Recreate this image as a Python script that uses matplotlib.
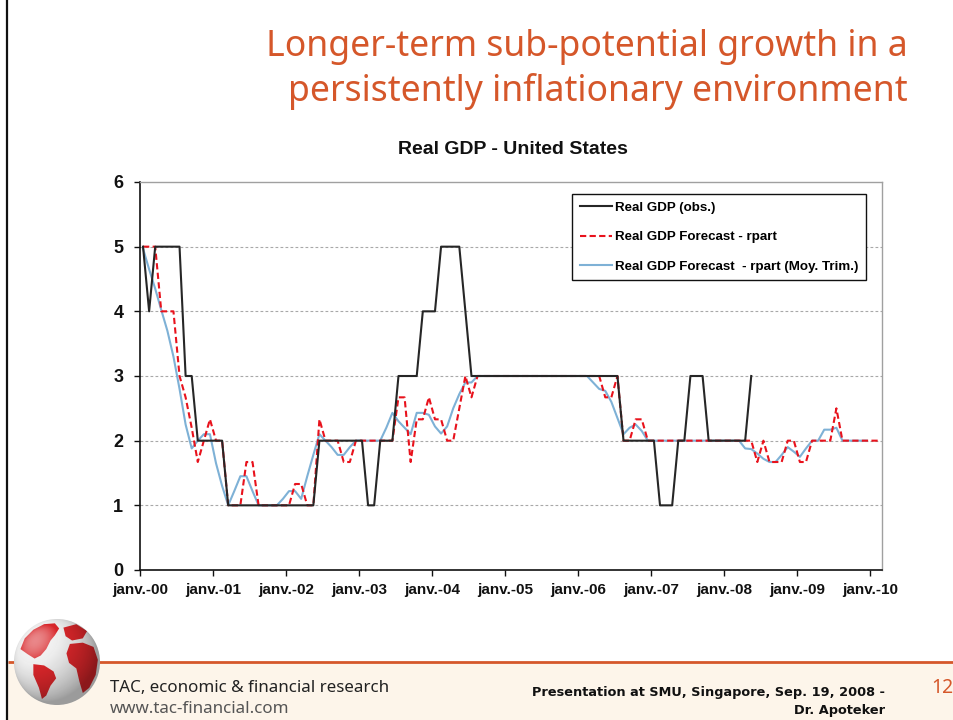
import numpy as np
import matplotlib
matplotlib.use("Agg")
import matplotlib.pyplot as plt
from matplotlib.patches import Circle, Polygon, Rectangle
from matplotlib.lines import Line2D

nan = np.nan

# monthly data, janv. 2000 -> fev. 2010 (122 months)
gdp_obs = [
    5, 4, 5, 5, 5, 5, 5, 3, 3, 2, 2, 2,            # 2000
    2, 2, 1, 1, 1, 1, 1, 1, 1, 1, 1, 1,            # 2001
    1, 1, 1, 1, 1, 2, 2, 2, 2, 2, 2, 2,            # 2002
    2, 1, 1, 2, 2, 2, 3, 3, 3, 3, 4, 4,            # 2003
    4, 5, 5, 5, 5, 4, 3, 3, 3, 3, 3, 3,            # 2004
    3, 3, 3, 3, 3, 3, 3, 3, 3, 3, 3, 3,            # 2005
    3, 3, 3, 3, 3, 3, 3, 2, 2, 2, 2, 2,            # 2006
    2, 1, 1, 1, 2, 2, 3, 3, 3, 2, 2, 2,            # 2007
    2, 2, 2, 2, 3, nan, nan, nan, nan, nan, nan, nan,  # 2008
    nan, nan, nan, nan, nan, nan, nan, nan, nan, nan, nan, nan,  # 2009
    nan, nan,                                      # 2010
]

gdp_rpart = [
    5, 5, 5, 4, 4, 4, 3, 2.67, 2.2, 1.67, 2, 2.33,
    2, 2, 1, 1, 1, 1.67, 1.67, 1, 1, 1, 1, 1,
    1, 1.33, 1.33, 1, 1, 2.33, 2, 2, 2, 1.67, 1.67, 2,
    2, 2, 2, 2, 2, 2, 2.67, 2.67, 1.67, 2.33, 2.33, 2.67,
    2.33, 2.33, 2, 2, 2.5, 3, 2.67, 3, 3, 3, 3, 3,
    3, 3, 3, 3, 3, 3, 3, 3, 3, 3, 3, 3,
    3, 3, 3, 3, 2.67, 2.67, 3, 2, 2, 2.33, 2.33, 2,
    2, 2, 2, 2, 2, 2, 2, 2, 2, 2, 2, 2,
    2, 2, 2, 2, 2, 1.67, 2, 1.67, 1.67, 1.67, 2, 2,
    1.67, 1.67, 2, 2, 2, 2, 2.5, 2, 2, 2, 2, 2,
    2, 2,
]

gdp_rpart_trim = [
    4.97, 4.65, 4.35, 4.02, 3.7, 3.3, 2.8, 2.25, 1.88, 2.0, 2.1, 2.1,
    1.65, 1.3, 1.0, 1.22, 1.45, 1.45, 1.22, 1.0, 1.0, 1.0, 1.0, 1.1,
    1.22, 1.22, 1.1, 1.45, 1.78, 2.1, 2.0, 1.9, 1.78, 1.78, 1.9, 2.0,
    2, 2, 2, 2, 2.2, 2.43, 2.3, 2.2, 2.1, 2.43, 2.43, 2.4,
    2.22, 2.11, 2.22, 2.5, 2.72, 2.9, 2.9, 3, 3, 3, 3, 3,
    3, 3, 3, 3, 3, 3, 3, 3, 3, 3, 3, 3,
    3, 3, 2.9, 2.8, 2.77, 2.6, 2.35, 2.1, 2.2, 2.25, 2.15, 2.0,
    2, 2, 2, 2, 2, 2, 2, 2, 2, 2, 2, 2,
    2, 2, 2, 1.88, 1.87, 1.8, 1.72, 1.67, 1.67, 1.78, 1.9, 1.83,
    1.75, 1.88, 2.0, 2.0, 2.17, 2.17, 2.2, 2, 2, 2, 2, 2,
    nan, nan,
]

year_labels = ['janv.-00', 'janv.-01', 'janv.-02', 'janv.-03', 'janv.-04', 'janv.-05',
               'janv.-06', 'janv.-07', 'janv.-08', 'janv.-09', 'janv.-10']
series_names = ['Real GDP (obs.)', 'Real GDP Forecast - rpart',
                'Real GDP Forecast  - rpart (Moy. Trim.)']

ORANGE = '#d5572a'
W, H = 954, 720

fig = plt.figure(figsize=(W / 100, H / 100), dpi=100)
fig.patch.set_facecolor('white')

# slide background drawn in pixel coordinates
bg = fig.add_axes([0, 0, 1, 1], zorder=0)
bg.set_xlim(0, W)
bg.set_ylim(H, 0)
bg.axis('off')

bg.add_patch(Rectangle((8, 662), W - 8, H - 662, fc='#fdf5ea', ec='none', zorder=1))
bg.plot([8, W], [661.5, 661.5], color=ORANGE, lw=2, zorder=2, solid_capstyle='butt')
bg.plot([7.5, 7.5], [0, H], color='#111111', lw=1.6, zorder=2)


def draw_globe(ax, cx, cy, r):
    circ = Circle((cx, cy), r, fc='#eeeeee', ec='none', zorder=3)
    ax.add_patch(circ)
    lands = [
        # north america
        [(-0.85, 0.3), (-0.75, 0.55), (-0.55, 0.75), (-0.3, 0.88), (-0.05, 0.9), (0.05, 0.78),
         (-0.05, 0.62), (-0.15, 0.5), (-0.25, 0.3), (-0.38, 0.15), (-0.52, 0.08), (-0.68, 0.18)],
        # south america
        [(-0.55, -0.05), (-0.3, -0.08), (-0.08, -0.22), (-0.02, -0.38), (-0.15, -0.55),
         (-0.25, -0.78), (-0.35, -0.86), (-0.42, -0.6), (-0.55, -0.3)],
        # europe
        [(0.15, 0.8), (0.45, 0.88), (0.7, 0.72), (0.6, 0.55), (0.35, 0.5), (0.2, 0.6)],
        # africa
        [(0.3, 0.42), (0.6, 0.45), (0.85, 0.35), (0.95, 0.05), (0.9, -0.3), (0.75, -0.6),
         (0.6, -0.72), (0.52, -0.45), (0.45, -0.15), (0.28, -0.02), (0.22, 0.2)],
    ]
    for land in lands:
        p = Polygon([(cx + r * u, cy - r * v) for u, v in land], closed=True,
                    fc='#d8262a', ec='none', zorder=4)
        ax.add_patch(p)
        p.set_clip_path(circ)
    # spherical shading
    n = 240
    u, v = np.meshgrid(np.linspace(-1, 1, n), np.linspace(1, -1, n))
    z = np.sqrt(np.clip(1 - u ** 2 - v ** 2, 0, None))
    light = np.array([-0.5, 0.5, 0.7])
    light = light / np.linalg.norm(light)
    lam = u * light[0] + v * light[1] + z * light[2]
    rgba = np.zeros((n, n, 4))
    hi = lam > 0.85
    rgba[hi, :3] = 1.0
    rgba[..., 3] = np.where(hi, np.clip((lam - 0.85) * 3, 0, 0.45),
                            np.clip((0.85 - lam) * 0.35, 0, 0.35))
    im = ax.imshow(rgba, extent=(cx - r, cx + r, cy + r, cy - r), origin='upper',
                   zorder=5, aspect='auto', interpolation='bilinear')
    im.set_clip_path(circ)


draw_globe(bg, 57, 662, 43)
bg.set_xlim(0, W)
bg.set_ylim(H, 0)

# slide title
title_font = ['Noto Sans', 'DejaVu Sans']
bg.text(908, 56, 'Longer-term sub-potential growth in a', ha='right', va='baseline',
        fontsize=25.6, color=ORANGE, family=title_font)
bg.text(908, 101, 'persistently inflationary environment', ha='right', va='baseline',
        fontsize=25.6, color=ORANGE, family=title_font)

# footer
bg.text(110, 692, 'TAC, economic & financial research', ha='left', va='baseline',
        fontsize=12.2, color='#222222', family=title_font)
bg.text(110, 713, 'www.tac-financial.com', ha='left', va='baseline',
        fontsize=12.2, color='#555555', family=title_font)
bg.text(885, 696, 'Presentation at SMU, Singapore, Sep. 19, 2008 -', ha='right', va='baseline',
        fontsize=9.3, fontweight='bold', color='#111111', family='DejaVu Sans')
bg.text(885, 714, 'Dr. Apoteker', ha='right', va='baseline',
        fontsize=9.3, fontweight='bold', color='#111111', family='DejaVu Sans')
bg.text(931, 693, '12', ha='left', va='baseline', fontsize=14, color=ORANGE,
        family=title_font)

# chart
arial = ['Liberation Sans', 'DejaVu Sans']
ax = fig.add_axes([140 / W, 1 - 570 / H, 742 / W, 388 / H], zorder=2)
ax.set_facecolor('white')
x = np.arange(len(gdp_obs)) + 0.5

ax.plot(x, gdp_rpart_trim, color='#7eb1d6', lw=1.5, zorder=3)
ax.plot(x, gdp_rpart, color='#e8121c', lw=1.5, ls=(0, (3, 1.6)), zorder=4)
ax.plot(x, gdp_obs, color='#262626', lw=1.5, zorder=5)

ax.set_xlim(0, len(gdp_obs))
ax.set_ylim(0, 6)
ax.set_xticks(np.arange(0, 121, 12))
ax.set_xticklabels(year_labels)
ax.set_yticks(range(7))
for lbl in ax.get_xticklabels():
    lbl.set_fontfamily(arial)
    lbl.set_fontweight('bold')
    lbl.set_fontsize(11)
for lbl in ax.get_yticklabels():
    lbl.set_fontfamily(arial)
    lbl.set_fontweight('bold')
    lbl.set_fontsize(13)
ax.tick_params(axis='x', direction='out', length=4.5, width=1, pad=5, colors='#111111')
ax.tick_params(axis='y', direction='out', length=4, width=1, pad=8, colors='#111111')

for yv in range(1, 6):
    ax.axhline(yv, color='#a8a8a8', lw=0.8, ls=(0, (2.5, 2)), zorder=1)
for side in ('left', 'bottom'):
    ax.spines[side].set_color('#111111')
    ax.spines[side].set_linewidth(1.2)
for side in ('top', 'right'):
    ax.spines[side].set_color('#a0a0a0')
    ax.spines[side].set_linewidth(1.0)

handles = [
    Line2D([], [], color='#262626', lw=1.5),
    Line2D([], [], color='#e8121c', lw=1.5, ls=(0, (3, 1.6))),
    Line2D([], [], color='#7eb1d6', lw=1.5),
]
leg = ax.legend(handles, series_names, loc='upper right', bbox_to_anchor=(0.978, 0.969),
                borderaxespad=0, frameon=True, fancybox=False, edgecolor='#111111',
                framealpha=1, handlelength=2.4, handletextpad=0.25, labelspacing=1.3,
                borderpad=0.55, prop={'family': arial, 'weight': 'bold', 'size': 9.6})
leg.get_frame().set_linewidth(1.0)

fig.text(513 / W, 1 - 150 / H, 'Real GDP - United States', ha='center', va='center',
         fontsize=14, fontweight='bold', family=arial, color='#111111')

fig.savefig('out.png', dpi=100)
